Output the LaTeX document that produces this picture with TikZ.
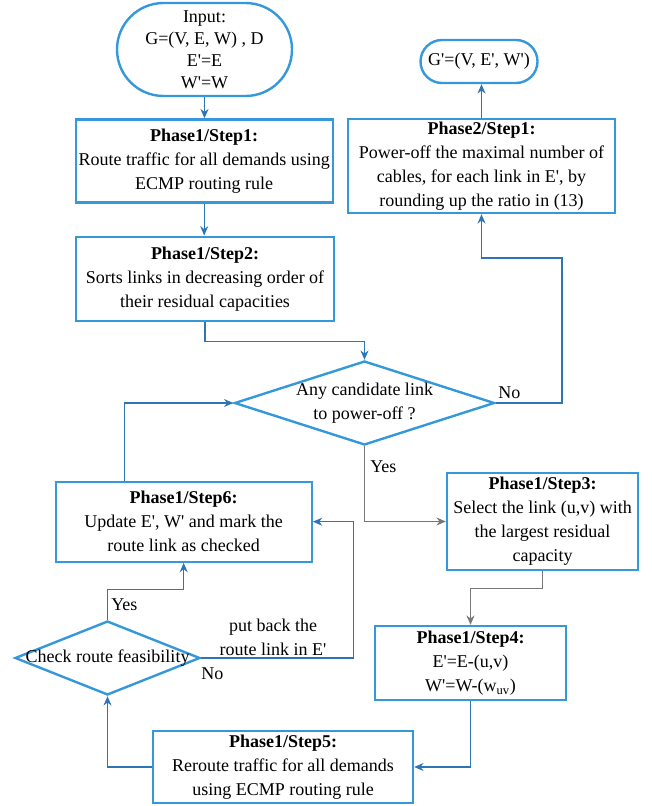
\documentclass[tikz,border=0pt]{standalone}
\usepackage{fontspec}
\setmainfont{Liberation Serif}[Ligatures=TeXOff]
\usepackage{tikz}
\usetikzlibrary{shapes.geometric}
\usetikzlibrary{shapes.misc}
\usetikzlibrary{arrows.meta}
\usetikzlibrary{calc}

\definecolor{boxblue}{RGB}{52,152,219}
\definecolor{lineblue}{RGB}{46,117,182}
\definecolor{linegray}{RGB}{120,120,120}

\begin{document}
\begin{tikzpicture}[x=0.75pt,y=-0.75pt,
  every node/.style={font=\fontsize{13.5}{18}\selectfont},
  box/.style={draw=boxblue,line width=1.8pt,align=center,inner sep=0pt},
  term/.style={box,rounded rectangle},
  dec/.style={draw=boxblue,line width=1.8pt,diamond,inner sep=0pt},
  arr/.style={draw=lineblue,line width=0.8pt,-{Stealth[length=7pt,width=6pt]}},
  garr/.style={arr,draw=linegray}]
\useasboundingbox (0,0) rectangle (651,806);
% nodes
\node[term,minimum width=131.25pt,minimum height=69.75pt,
  font=\fontsize{13.5}{16.5}\selectfont] (input) at (204.5,49.5)
  {Input:\\G=(V, E, W) , D\\E'=E\\W'=W};
\node[term,minimum width=87.75pt,minimum height=32.25pt] (gout) at (479,61.5) {G'=(V, E', W')};
\node[box,minimum width=192.75pt,minimum height=62.25pt] (step1) at (204.2,161)
  {\textbf{Phase1/Step1:}\\Route traffic for all demands using\\ECMP routing rule};
\node[box,minimum width=193.5pt,minimum height=63pt] (step2) at (205,278.7)
  {\textbf{Phase1/Step2:}\\Sorts links in decreasing order of\\their residual capacities};
\node[box,minimum width=200.25pt,minimum height=70.5pt] (phase2) at (481.5,166)
  {\textbf{Phase2/Step1:}\\Power-off the maximal number of\\cables, for each link in E', by\\rounding up the ratio in (13)};
\node[dec,minimum width=195pt,minimum height=63pt] (any) at (364.5,403) {};
\node[align=center] (anytext) at (any) {Any candidate link\\to power-off ?};
\node[box,minimum width=143.25pt,minimum height=72.75pt] (step3) at (542.5,521.5)
  {\textbf{Phase1/Step3:}\\Select the link (u,v) with\\the largest residual\\capacity};
\node[box,minimum width=143.25pt,minimum height=55.5pt] (step4) at (470.5,663)
  {\textbf{Phase1/Step4:}\\E'=E-(u,v)\\W'=W-(w\textsubscript{uv})};
\node[box,minimum width=195pt,minimum height=54pt] (step5) at (283,767)
  {\textbf{Phase1/Step5:}\\Reroute traffic for all demands\\using ECMP routing rule};
\node[box,minimum width=192pt,minimum height=60pt] (step6) at (183.7,521.7)
  {\textbf{Phase1/Step6:}\\Update E', W' and mark the\\route link as checked};
\node[dec,minimum width=138.75pt,minimum height=55.5pt] (check) at (107.5,658) {};
\node (checktext) at (check) {Check route feasibility};
% labels
\node[anchor=west,inner sep=0pt] (noone) at (498,393) {No};
\node[anchor=west,inner sep=0pt] (yesone) at (370,467) {Yes};
\node[anchor=west,inner sep=0pt] (yestwo) at (111,605) {Yes};
\node[anchor=west,inner sep=0pt] (notwo) at (201,674) {No};
\node[align=center] (putback) at (273,637) {put back the\\route link in E'};
% connectors
\coordinate (nocorner) at (562,258);
\draw[arr] (input.south) -- (input.south |- step1.north);
\draw[arr] (step1.south) -- (step1.south |- step2.north);
\draw[arr] (step2.south) -- ++(0,20) -| (any.north);
\draw[arr] (any.east) -| (nocorner) -| (phase2.south);
\draw[arr] (phase2.north) -- (phase2.north |- gout.south);
\draw[garr] (any.south) |- (step3.west);
\draw[garr] (step3.south) -- ++(0,17) -| (step4.north);
\draw[arr] (step4.south) |- (step5.east);
\draw[arr] (step5.west) -| (check.south);
\draw[arr] (check.north) -- ++(0,-30) -| (step6.south);
\draw[arr] (check.east) -- ++(152,0) |- (step6.east);
\draw[arr] ($(step6.north west)+(70,0)$) |- (any.west);
\end{tikzpicture}
\end{document}
